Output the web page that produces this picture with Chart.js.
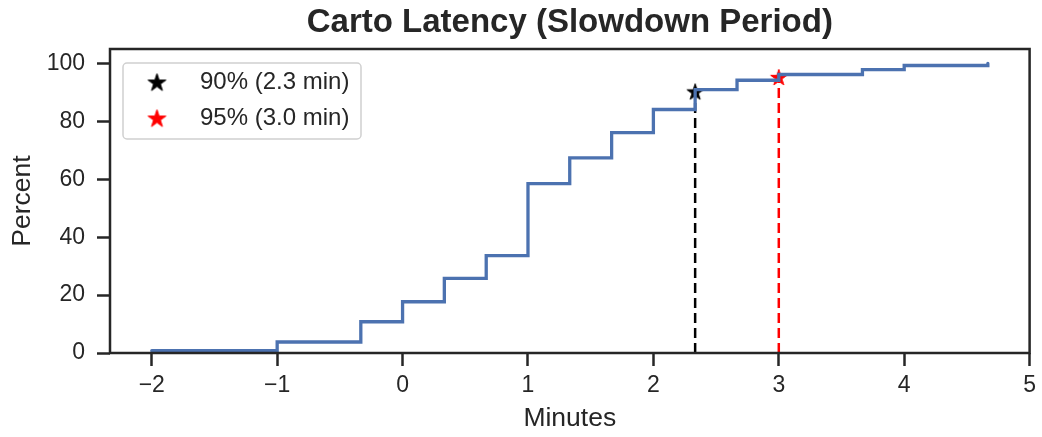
<!DOCTYPE html>
<html>
<head>
<meta charset="utf-8">
<script src="https://cdn.jsdelivr.net/npm/chart.js@4.4.1/dist/chart.umd.min.js"></script>
<style>
  html, body { margin: 0; padding: 0; background: #fff; }
  #wrap { width: 1042px; height: 437px; }
</style>
</head>
<body>
<div id="wrap"><canvas id="chart"></canvas></div>
<script>
// empirical CDF of latency, one level per 20 s bucket
const stepMinutes = [-2, -1, -0.333, 0, 0.333, 0.667, 1, 1.333, 1.667, 2, 2.333, 2.667, 3, 3.667, 4, 4.667]
const stepPercent = [0.8, 3.8, 10.8, 17.7, 25.8, 33.6, 58.5, 67.4, 76.1, 84.1, 91.0, 94.2, 96.2, 97.9, 99.3, 100]

const p90 = { minutes: 2.333, percent: 90 }
const p95 = { minutes: 3.0, percent: 95 }

const xTicks = [-2, -1, 0, 1, 2, 3, 4, 5]
const yTicks = [0, 20, 40, 60, 80, 100]

const INK = "#262626"
const BLUE = "#4c72b0"
const FONT = "'Liberation Sans', Arial, sans-serif"

Chart.defaults.font.family = FONT
Chart.defaults.color = INK

// filled five-point star, matplotlib style (inner radius ~0.38 of outer)
function starImage(color, r) {
  const size = Math.ceil(2 * r + 4)
  const c = document.createElement("canvas")
  c.width = c.height = size
  const g = c.getContext("2d")
  const cx = size / 2, cy = size / 2
  g.beginPath()
  for (let i = 0; i < 10; i++) {
    const rad = i % 2 ? r * 0.382 : r
    const a = -Math.PI / 2 + i * Math.PI / 5
    g.lineTo(cx + rad * Math.cos(a), cy + rad * Math.sin(a))
  }
  g.closePath()
  g.fillStyle = color
  g.fill()
  g.lineWidth = 1
  g.strokeStyle = color
  g.stroke()
  return c
}

const markers = [
  { p: p90, color: "#000000" },
  { p: p95, color: "#ff0000" }
]
markers.forEach(m => {
  m.label = `${m.p.percent}% (${m.p.minutes.toFixed(1)} min)`
  m.plotStar = starImage(m.color, 8.6)
  m.legendStar = starImage(m.color, 9.4)
})

const cdfPoints = stepMinutes.map((x, i) => ({ x, y: stepPercent[i] }))

const frame = {
  id: "frame",
  afterDatasetsDraw(chart) {
    const { ctx, chartArea: a } = chart
    ctx.save()
    ctx.strokeStyle = INK
    ctx.lineWidth = 2.5
    ctx.strokeRect(a.left, a.top, a.right - a.left, a.bottom - a.top)
    ctx.restore()
  },
  afterDraw(chart) {
    const { ctx, chartArea: a } = chart
    ctx.save()
    // title
    ctx.fillStyle = INK
    ctx.font = `bold 33px ${FONT}`
    ctx.textAlign = "center"
    ctx.textBaseline = "alphabetic"
    ctx.fillText("Carto Latency (Slowdown Period)", (a.left + a.right) / 2, 32)

    // legend box, upper left inside the axes
    const bx = a.left + 13, by = a.top + 14, bw = 238, bh = 76
    ctx.beginPath()
    ctx.roundRect(bx, by, bw, bh, 4)
    ctx.fillStyle = "rgba(255,255,255,0.8)"
    ctx.fill()
    ctx.strokeStyle = "#d0d0d0"
    ctx.lineWidth = 1.5
    ctx.stroke()

    ctx.font = `24px ${FONT}`
    ctx.textAlign = "left"
    ctx.textBaseline = "middle"
    markers.forEach((m, i) => {
      const cy = by + 19 + i * 36
      const img = m.legendStar
      ctx.drawImage(img, bx + 34 - img.width / 2, cy + 1 - img.height / 2)
      ctx.fillStyle = INK
      ctx.fillText(m.label, bx + 77, cy)
    })
    ctx.restore()
  }
}

new Chart(document.getElementById("chart"), {
  type: "line",
  data: {
    datasets: [
      {
        data: cdfPoints,
        borderColor: BLUE,
        borderWidth: 3.3,
        stepped: "before",
        pointRadius: 0,
        borderCapStyle: "round",
        order: 1
      },
      ...markers.map(m => ({
        data: [{ x: m.p.minutes, y: 0 }, { x: m.p.minutes, y: m.p.percent }],
        borderColor: m.color,
        borderWidth: 2.5,
        borderDash: [10, 5],
        pointRadius: 0,
        order: 3
      })),
      ...markers.map(m => ({
        type: "scatter",
        label: m.label,
        data: [{ x: m.p.minutes, y: m.p.percent }],
        pointStyle: m.plotStar,
        pointRadius: 8,
        order: 2
      }))
    ]
  },
  options: {
    responsive: true,
    maintainAspectRatio: false,
    animation: false,
    layout: { padding: { left: 0, right: 11, top: 49, bottom: 0 } },
    plugins: {
      legend: { display: false },
      tooltip: { enabled: false }
    },
    scales: {
      x: {
        type: "linear",
        min: -2.333,
        max: 5,
        afterBuildTicks: s => { s.ticks = xTicks.map(value => ({ value })) },
        afterFit: s => { s.height = 84 },
        border: { display: false },
        grid: { drawOnChartArea: false, drawTicks: true, tickLength: 13, tickWidth: 2.5, tickColor: INK },
        ticks: {
          color: INK,
          padding: 6,
          maxRotation: 0,
          font: { size: 23 },
          callback: v => String(v).replace("-", "\u2212")
        },
        title: { display: true, text: "Minutes", color: INK, font: { size: 26.5 }, padding: { top: 0, bottom: 2 } }
      },
      y: {
        type: "linear",
        min: 0,
        max: 105,
        afterBuildTicks: s => { s.ticks = yTicks.map(value => ({ value })) },
        afterFit: s => { s.width = 110 },
        border: { display: false },
        grid: { drawOnChartArea: false, drawTicks: true, tickLength: 13, tickWidth: 2.5, tickColor: INK },
        ticks: { color: INK, padding: 12, font: { size: 23 } },
        title: { display: true, text: "Percent", color: INK, font: { size: 26.5 }, padding: { top: 7, bottom: 0 } }
      }
    }
  },
  plugins: [frame]
})
</script>
</body>
</html>
